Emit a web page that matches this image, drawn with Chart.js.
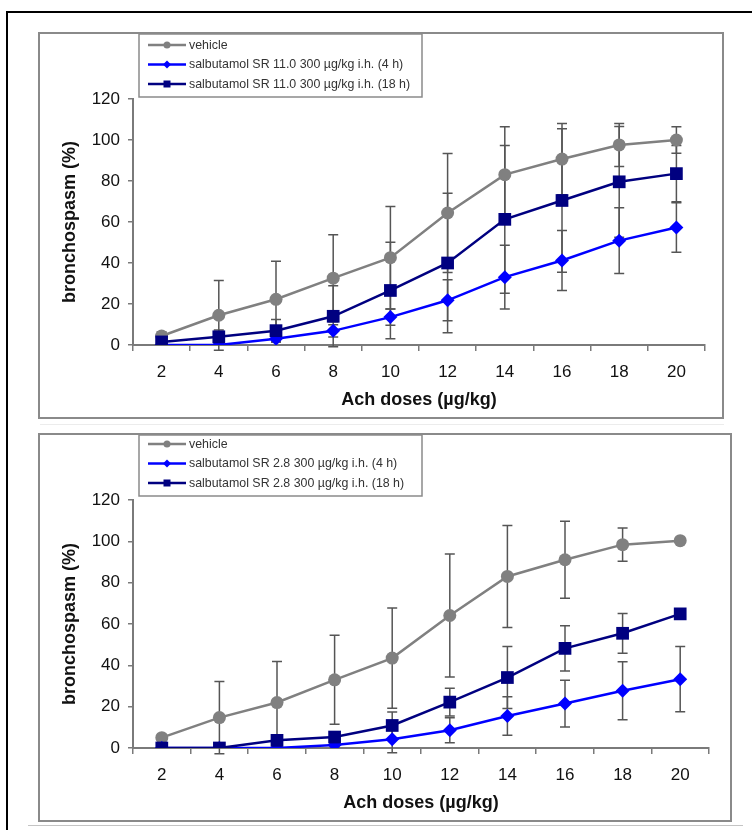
<!DOCTYPE html>
<html>
<head>
<meta charset="utf-8">
<script src="https://cdn.jsdelivr.net/npm/chart.js@4.4.0/dist/chart.umd.min.js"></script>
<style>
body{margin:0;background:#fff;width:752px;height:830px;position:relative;overflow:hidden;font-family:"Liberation Sans",Arial,sans-serif}
.line{position:absolute}
.panel{position:absolute;border:2px solid #8a8a8a;box-sizing:border-box;background:#fff}
.panel canvas{position:absolute;left:0;top:0}
</style>
</head>
<body>
<div class="line" style="left:6px;top:11px;width:746px;height:2px;background:#000"></div>
<div class="line" style="left:6px;top:11px;width:2px;height:819px;background:#000"></div>
<div class="line" style="left:40px;top:424px;width:684px;height:1px;background:#ececec"></div>
<div class="line" style="left:28px;top:825px;width:715px;height:1px;background:#c4c4c4"></div>

<div class="panel" style="left:38px;top:32px;width:686px;height:387px">
  <canvas id="chartA" width="682" height="383"></canvas>
</div>
<div class="panel" style="left:38px;top:433px;width:694px;height:389px">
  <canvas id="chartB" width="690" height="385"></canvas>
</div>

<script>
// x categories: Ach doses
const doses = ['2', '4', '6', '8', '10', '12', '14', '16', '18', '20'];

// upper chart: SR 11.0
const vehicleA   = [4.4, 14.5, 22.3, 32.6, 42.6, 64.4, 83.1, 90.7, 97.6, 100];
const vehicleAErr = [2, 17, 18.5, 21.2, 25, 29, 23.4, 17.4, 10.5, 6.5];
const sr110_4h   = [0, 0, 3, 6.9, 13.6, 21.8, 33.1, 41.2, 50.9, 57.3];
const sr110_4hErr = [0, 0, 1.5, 3, 4, 10, 15.5, 14.6, 16, 12.1];
const sr110_18h  = [1.5, 4, 7, 14, 26.6, 40, 61.3, 70.5, 79.6, 83.6];
const sr110_18hErr = [1, 3.3, 5.5, 14.9, 23.5, 34, 36, 35, 27, 13.7];
const legendA = ['vehicle', 'salbutamol SR 11.0 300 µg/kg i.h. (4 h)', 'salbutamol SR 11.0 300 µg/kg i.h. (18 h)'];

// lower chart: SR 2.8
const vehicleB   = [5, 14.7, 22, 33, 43.5, 64.1, 83, 91.1, 98.4, 100.3];
const vehicleBErr = [1, 17.5, 19.8, 21.5, 24.3, 29.8, 24.7, 18.6, 8, 0];
const sr28_4h    = [0, 0, 0, 1.5, 4.2, 8.6, 15.5, 21.5, 27.7, 33.3];
const sr28_4hErr = [0, 0, 0, 1, 6.5, 6, 9.3, 11.3, 14, 15.8];
const sr28_18h   = [0, 0, 3.7, 5.3, 10.9, 22.2, 34.1, 48.2, 55.5, 64.9];
const sr28_18hErr = [0, 0, 0.5, 1, 6.5, 6.7, 15, 10.9, 9.6, 0];
const legendB = ['vehicle', 'salbutamol SR 2.8 300 µg/kg i.h. (4 h)', 'salbutamol SR 2.8 300 µg/kg i.h. (18 h)'];

const GREY = '#808080', BLUE = '#0000ff', NAVY = '#000080', AXIS = '#7a7a7a';
const FONT = '"Liberation Sans", Arial, sans-serif';

// error bars (+/-) drawn under the markers
const errorBars = {
  id: 'errorBars',
  beforeDatasetsDraw(chart) {
    const ctx = chart.ctx, y = chart.scales.y;
    ctx.save();
    ctx.strokeStyle = '#555';
    ctx.lineWidth = 1.5;
    chart.data.datasets.forEach((ds, i) => {
      chart.getDatasetMeta(i).data.forEach((pt, j) => {
        const e = ds.err[j];
        if (!e) return;
        const t = y.getPixelForValue(ds.data[j] + e), b = y.getPixelForValue(ds.data[j] - e);
        ctx.beginPath();
        ctx.moveTo(pt.x, t); ctx.lineTo(pt.x, b);
        ctx.moveTo(pt.x - 5, t); ctx.lineTo(pt.x + 5, t);
        ctx.moveTo(pt.x - 5, b); ctx.lineTo(pt.x + 5, b);
        ctx.stroke();
      });
    });
    ctx.restore();
  }
};

function marker(ctx, style, x, y, col) {
  ctx.fillStyle = col;
  ctx.beginPath();
  if (style === 'circle') ctx.arc(x, y, 3.5, 0, Math.PI * 2);
  else if (style === 'rectRot') { ctx.moveTo(x - 4, y); ctx.lineTo(x, y - 4); ctx.lineTo(x + 4, y); ctx.lineTo(x, y + 4); ctx.closePath(); }
  else ctx.rect(x - 3.5, y - 3.5, 7, 7);
  ctx.fill();
}

// boxed legend in the top-left corner
const boxLegend = {
  id: 'boxLegend',
  afterDraw(chart, args, opts) {
    const ctx = chart.ctx, x0 = chart.chartArea.left + 6;
    ctx.save();
    ctx.fillStyle = '#fff';
    ctx.fillRect(x0, 0, 283, opts.height);
    ctx.strokeStyle = '#8a8a8a'; ctx.lineWidth = 1.5;
    ctx.strokeRect(x0, 0, 283, opts.height);
    ctx.font = '12.4px ' + FONT;
    ctx.textBaseline = 'middle';
    chart.data.datasets.forEach((ds, i) => {
      const yy = opts.rows[i];
      ctx.strokeStyle = ds.borderColor; ctx.lineWidth = 2.5;
      ctx.beginPath(); ctx.moveTo(x0 + 9, yy); ctx.lineTo(x0 + 47, yy); ctx.stroke();
      marker(ctx, ds.pointStyle, x0 + 28, yy, ds.borderColor);
      ctx.fillStyle = '#333';
      ctx.fillText(ds.label, x0 + 50, yy + 0.5);
    });
    ctx.restore();
  }
};

function makeChart(id, names, series, errs, rightPad, legendRows, legendH) {
  const styles = [
    {color: GREY, pointStyle: 'circle', pointRadius: 6.5, order: 3},
    {color: BLUE, pointStyle: 'rectRot', pointRadius: 7, order: 2},
    {color: NAVY, pointStyle: 'rect', pointRadius: 9, order: 1}
  ];
  return new Chart(document.getElementById(id), {
    type: 'line',
    data: {
      labels: doses,
      datasets: series.map((d, i) => ({
        label: names[i],
        data: d,
        err: errs[i],
        borderColor: styles[i].color,
        backgroundColor: styles[i].color,
        pointBackgroundColor: styles[i].color,
        pointBorderColor: styles[i].color,
        pointBorderWidth: 0,
        pointStyle: styles[i].pointStyle,
        pointRadius: styles[i].pointRadius,
        borderWidth: 2.5,
        tension: 0,
        order: styles[i].order
      }))
    },
    options: {
      responsive: false,
      animation: false,
      layout: {padding: {top: 65, right: rightPad, left: 0, bottom: 0}},
      plugins: {
        legend: {display: false},
        tooltip: {enabled: false},
        boxLegend: {rows: legendRows, height: legendH}
      },
      scales: {
        x: {
          offset: true,
          afterFit(s) { s.height = 72; },
          grid: {offset: true, drawOnChartArea: false, tickLength: 6, color: AXIS, lineWidth: 1.5},
          border: {color: AXIS, width: 2},
          ticks: {color: '#111', padding: 11, font: {family: FONT, size: 17}},
          title: {display: true, text: 'Ach doses (µg/kg)', color: '#111', padding: {top: 0, bottom: 6}, font: {family: FONT, size: 18, weight: 'bold'}}
        },
        y: {
          min: 0, max: 120,
          afterFit(s) { s.width = 93; },
          grid: {drawOnChartArea: false, tickLength: 5, color: AXIS, lineWidth: 1.5},
          border: {color: AXIS, width: 2},
          ticks: {stepSize: 20, color: '#111', padding: 8, font: {family: FONT, size: 17}},
          title: {display: true, text: 'bronchospasm (%)', color: '#111', padding: {top: 19, bottom: 0}, font: {family: FONT, size: 18, weight: 'bold'}}
        }
      }
    },
    plugins: [errorBars, boxLegend]
  });
}

makeChart('chartA', legendA, [vehicleA, sr110_4h, sr110_18h], [vehicleAErr, sr110_4hErr, sr110_18hErr], 17, [11, 30.5, 50], 63);
makeChart('chartB', legendB, [vehicleB, sr28_4h, sr28_18h], [vehicleBErr, sr28_4hErr, sr28_18hErr], 21, [9, 28.5, 48], 61);
</script>
</body>
</html>
